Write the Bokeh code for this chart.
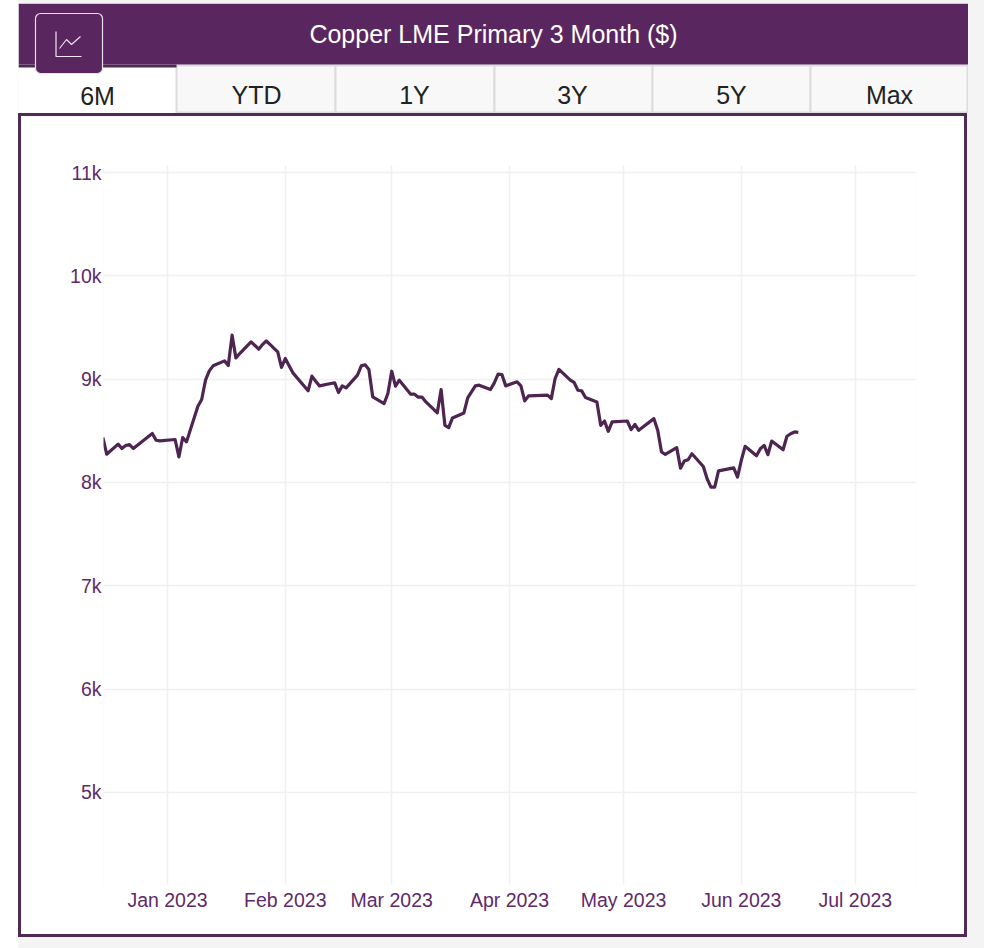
from datetime import datetime, timezone
from bokeh.plotting import figure
from bokeh.layouts import column
from bokeh.core.properties import value
from bokeh.models import BoxAnnotation, ColumnDataSource, FixedTicker, Range1d
from bokeh.embed import file_html
from bokeh.resources import INLINE

title_text = "Copper LME Primary 3 Month ($)"
tab_labels = ["6M", "YTD", "1Y", "3Y", "5Y", "Max"]
y_ticks = [5000, 6000, 7000, 8000, 9000, 10000, 11000]
y_tick_labels = ["5k", "6k", "7k", "8k", "9k", "10k", "11k"]
x_tick_dates = ["2023-01-01", "2023-02-01", "2023-03-01", "2023-04-01", "2023-05-01", "2023-06-01", "2023-07-01"]
x_tick_labels = ["Jan 2023", "Feb 2023", "Mar 2023", "Apr 2023", "May 2023", "Jun 2023", "Jul 2023"]

dates_2022 = ["12-15", "12-16", "12-19", "12-20", "12-21", "12-22", "12-23", "12-28", "12-29", "12-30"]
values_2022 = [8435, 8274, 8371, 8329, 8358, 8367, 8329, 8474, 8409, 8403]
dates_q1 = ["01-03", "01-04", "01-05", "01-06", "01-09", "01-10", "01-11", "01-12", "01-13", "01-16",
            "01-17", "01-18", "01-19", "01-20", "01-23", "01-24", "01-25", "01-26", "01-27", "01-30",
            "01-31", "02-01", "02-02", "02-03", "02-06", "02-07", "02-08", "02-09", "02-10", "02-13",
            "02-14", "02-15", "02-16", "02-17", "02-20", "02-21", "02-22", "02-23", "02-24", "02-27",
            "02-28", "03-01", "03-02", "03-03", "03-06", "03-07", "03-08", "03-09", "03-10", "03-13",
            "03-14", "03-15", "03-16", "03-17", "03-20", "03-21", "03-22", "03-23", "03-24", "03-27",
            "03-28", "03-29", "03-30", "03-31"]
values_q1 = [8416, 8248, 8435, 8393, 8738, 8803, 8990, 9080, 9129, 9177,
             9132, 9426, 9206, 9248, 9361, 9326, 9290, 9335, 9371, 9264,
             9113, 9200, 9129, 9061, 8932, 8887, 9029, 8980, 8935, 8958,
             8964, 8871, 8935, 8916, 9039, 9129, 9139, 9093, 8829, 8764,
             8861, 9077, 8932, 8990, 8855, 8855, 8826, 8826, 8780, 8674,
             8900, 8553, 8531, 8625, 8673, 8819, 8877, 8935, 8942, 8900,
             8964, 9048, 9045, 8935]
dates_q2 = ["04-03", "04-04", "04-05", "04-06", "04-11", "04-12", "04-13", "04-14", "04-17", "04-18",
            "04-19", "04-20", "04-21", "04-24", "04-25", "04-26", "04-27", "04-28", "05-02", "05-03",
            "05-04", "05-05", "05-09", "05-10", "05-11", "05-12", "05-15", "05-16", "05-17", "05-18",
            "05-19", "05-22", "05-23", "05-24", "05-25", "05-26", "05-30", "05-31", "06-01", "06-02",
            "06-05", "06-06", "06-07", "06-08", "06-09", "06-12", "06-13", "06-14", "06-15", "06-16"]
values_q2 = [8974, 8935, 8790, 8838, 8845, 8812, 9006, 9094, 8990, 8968,
             8893, 8887, 8822, 8780, 8553, 8595, 8495, 8586, 8595, 8511,
             8563, 8505, 8618, 8505, 8295, 8272, 8337, 8139, 8207, 8220,
             8278, 8155, 8036, 7955, 7955, 8113, 8142, 8052, 8214, 8350,
             8259, 8327, 8359, 8269, 8401, 8317, 8447, 8472, 8489, 8485]


def dt(s):
    return datetime.strptime(s, "%Y-%m-%d").replace(tzinfo=timezone.utc)


def ms(s):
    return dt(s).timestamp() * 1000


DAY = 86400e3
x = [dt("2022-" + d) for d in dates_2022] + [dt("2023-" + d) for d in dates_q1 + dates_q2]
y = values_2022 + values_q1 + values_q2

PURPLE = "#5a2660"
DARK = "#4e2a55"
TEXT = "#5f2a6b"
FONT = "Liberation Sans"
ICON = "#efe8f0"

# ---- header: title bar and tabs; its ranges are the page's own pixels
head = figure(width=950, height=110, output_backend="svg", toolbar_location=None,
              x_range=Range1d(18, 968), y_range=Range1d(113, 3),
              x_axis_type=None, y_axis_type=None, min_border=0, frame_align=False,
              margin=(3, 0, 0, 0))
head.outline_line_color = None
head.grid.visible = False
head.background_fill_color = "white"
head.border_fill_color = "white"

tab_edges = [18, 176, 335, 494, 652, 810, 967]
head.quad(left=tab_edges[1:-1], right=tab_edges[2:], top=65, bottom=112,
          fill_color="#f8f8f8", line_color="#dcdcdc", line_width=2)
head.quad(left=[18], right=[968], top=[3], bottom=[64], fill_color=PURPLE, line_color=None)
head.quad(left=[18], right=[176], top=[64], bottom=[67], fill_color=DARK, line_color=None)
head.add_layout(BoxAnnotation(left=35, right=102, top=13, bottom=73, fill_color=PURPLE, fill_alpha=1,
                              line_color="#e8e0ea", line_width=1.2, line_alpha=1, border_radius=5,
                              level="glyph", editable=False))
head.line(x=[55.5, 55.5, 81], y=[31, 56, 56], line_color=ICON, line_width=1.2, level="overlay")
head.line(x=[59, 66, 71, 80], y=[48, 39, 44, 36], line_color=ICON, line_width=1.1, level="overlay")
head.text(x=[493], y=[33], text=[title_text], text_font=value(FONT), text_font_size="25px", text_color="white",
          text_align="center", text_baseline="middle")
tab_centers = [97, 256, 414, 572, 731, 889]
tab_ys = [95, 94, 94, 94, 94, 94]
head.text(x=tab_centers, y=tab_ys, text=tab_labels, text_font=value(FONT), text_font_size="25px",
          text_color="#222222", text_align="center", text_baseline="middle")

# ---- chart
p = figure(width=943, height=818, x_axis_type="datetime", output_backend="svg", toolbar_location=None,
           x_range=Range1d(ms("2022-12-15") + 0.16 * DAY, ms("2023-07-17") + 0.1 * DAY),
           y_range=Range1d(4109, 11068),
           min_border_left=82, min_border_right=48, min_border_top=49, min_border_bottom=50,
           margin=(3, 0, 0, 3), frame_align=False,
           styles={"outline": "3.5px solid " + DARK})
p.outline_line_color = None
p.border_fill_color = "white"

p.xaxis.ticker = FixedTicker(ticks=[ms(d) for d in x_tick_dates])
p.xaxis.major_label_overrides = {ms(d): t for d, t in zip(x_tick_dates, x_tick_labels)}
p.yaxis.ticker = FixedTicker(ticks=y_ticks)
p.yaxis.major_label_overrides = dict(zip(y_ticks, y_tick_labels))
for ax in (p.xaxis, p.yaxis):
    ax.axis_line_color = None
    ax.major_tick_line_color = None
    ax.major_tick_out = 0
    ax.minor_tick_line_color = None
    ax.minor_tick_out = 0
    ax.major_label_text_color = TEXT
    ax.major_label_text_font = FONT
    ax.major_label_text_font_size = "19.5px"
p.xaxis.major_label_standoff = 4
p.yaxis.major_label_standoff = 2
p.grid.grid_line_color = "#f0f0f0"
p.grid.grid_line_width = 1.6

src = ColumnDataSource(dict(x=x, y=y))
p.line("x", "y", source=src, line_color="#4d2550", line_width=3.2, line_join="round")

root = column(head, p, spacing=0, width=966, height=948, margin=(0, 0, 0, 18),
              styles={"background-color": "#f4f4f4"})

open("out.html", "w").write(file_html(root, INLINE))
